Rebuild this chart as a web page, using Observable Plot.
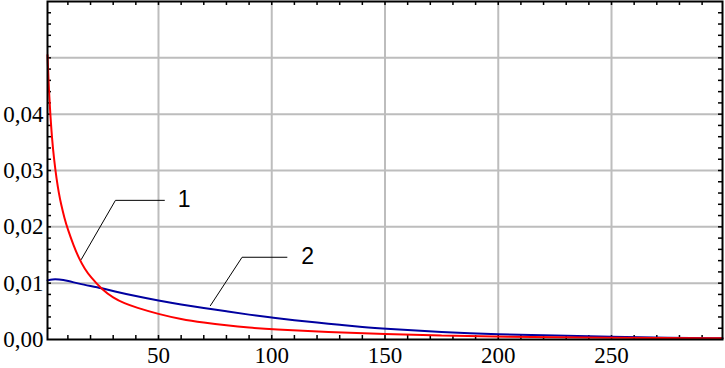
<!DOCTYPE html>
<html>
<head>
<meta charset="utf-8">
<script src="https://cdn.jsdelivr.net/npm/d3@7"></script>
<script src="https://cdn.jsdelivr.net/npm/@observablehq/plot@0.6"></script>
<style>
  html, body { margin: 0; padding: 0; background: #fff; }
  svg { display: block; }
  #chart svg text { font-family: "Liberation Serif", "Times New Roman", "DejaVu Serif", serif !important; }
</style>
</head>
<body>
<div id="chart"></div>
<script>
// Curve 1 (red)
const x1 = [1, 1.5, 2, 3, 4, 5, 6, 7, 8.5, 10, 12.5, 15, 17.5, 20, 25, 30, 35, 40, 50, 60, 70, 80, 90, 100, 125, 150, 175, 200, 250, 299];
const y1 = [0.0505, 0.0455, 0.0415, 0.0355, 0.0316, 0.0285, 0.0260, 0.0240, 0.0215, 0.0195, 0.0167, 0.0143, 0.0125, 0.0111, 0.0089, 0.0074, 0.0064, 0.0057, 0.0045, 0.0036, 0.0030, 0.0025, 0.0021, 0.0018, 0.0013, 0.00095, 0.0007, 0.0005, 0.0003, 0.0002];
// Curve 2 (blue)
const x2 = [1, 3, 6, 10, 15, 20, 25, 30, 40, 50, 60, 70, 80, 90, 100, 110, 120, 130, 140, 150, 175, 200, 225, 250, 275, 299];
const y2 = [0.0105, 0.0107, 0.0107, 0.0104, 0.0099, 0.0095, 0.0091, 0.0086, 0.0077, 0.0069, 0.0062, 0.0056, 0.0050, 0.0044, 0.0039, 0.0034, 0.0030, 0.0026, 0.0022, 0.0019, 0.0013, 0.0009, 0.0007, 0.0005, 0.0003, 0.0002];

// Axis ticks
const yTickLabels = [0, 0.01, 0.02, 0.03, 0.04];
const yGrid = [0.01, 0.02, 0.03, 0.04, 0.05];
const xTickLabels = [50, 100, 150, 200, 250];
const xMinor = d3.range(10, 300, 10);
const yMinor = d3.range(0.002, 0.06, 0.002);

// Annotation leaders and labels
const leader1x = [15.9, 31.0, 52.6];
const leader1y = [0.0142, 0.0247, 0.0247];
const leader2x = [72.9, 86.9, 106.7];
const leader2y = [0.0060, 0.0146, 0.0146];
const labelNames = ["1", "2"];
const labelX = [61.3, 115.8];
const labelY = [0.0249, 0.0147];

const series1 = x1.map((x, i) => ({x, y: y1[i]}));
const series2 = x2.map((x, i) => ({x, y: y2[i]}));
const lead1 = leader1x.map((x, i) => ({x, y: leader1y[i]}));
const lead2 = leader2x.map((x, i) => ({x, y: leader2y[i]}));
const labels = labelNames.map((t, i) => ({t, x: labelX[i], y: labelY[i]}));

const W = 725, H = 368, mL = 47, mR = 3, mT = 1, mB = 29;
const plotH = H - mT - mB, plotW = W - mL - mR;

const chart = Plot.plot({
  width: W, height: H,
  marginLeft: mL, marginRight: mR, marginTop: mT, marginBottom: mB,
  x: {domain: [1, 299]},
  y: {domain: [0, 0.06]},
  style: {background: "#fff", color: "#000"},
  marks: [
    Plot.ruleX(xTickLabels, {stroke: "#bdbdbd", strokeWidth: 2}),
    Plot.ruleY(yGrid, {stroke: "#bdbdbd", strokeWidth: 2}),
    // minor ticks on all four sides
    Plot.ruleX(xMinor, {stroke: "#000", strokeWidth: 1.5, insetTop: plotH - 4}),
    Plot.ruleX(xMinor, {stroke: "#000", strokeWidth: 1.5, insetBottom: plotH - 4}),
    Plot.ruleY(yMinor, {stroke: "#000", strokeWidth: 1.5, insetRight: plotW - 4}),
    Plot.ruleY(yMinor, {stroke: "#000", strokeWidth: 1.5, insetLeft: plotW - 4}),
    Plot.line(series2, {x: "x", y: "y", stroke: "#0000a0", strokeWidth: 2, curve: "basis"}),
    Plot.line(series1, {x: "x", y: "y", stroke: "#ff0000", strokeWidth: 2, curve: "basis"}),
    Plot.line(lead1, {x: "x", y: "y", stroke: "#000", strokeWidth: 1}),
    Plot.line(lead2, {x: "x", y: "y", stroke: "#000", strokeWidth: 1}),
    Plot.text(labels, {x: "x", y: "y", text: "t", fontSize: 23, fill: "#000", textAnchor: "middle"}),
    Plot.frame({stroke: "#000", strokeWidth: 2}),
    Plot.axisY({ticks: yTickLabels, tickSize: 0, tickPadding: 4, fontSize: 23,
      tickFormat: d => d.toFixed(2).replace(".", ","), label: null}),
    Plot.axisX({ticks: xTickLabels, tickSize: 0, tickPadding: 7, fontSize: 23,
      tickFormat: d => String(d), label: null})
  ]
});
document.getElementById("chart").appendChild(chart);
// curve labels "1" and "2" use a sans-serif face
chart.querySelectorAll("text").forEach(t => {
  if (labelNames.includes(t.textContent)) {
    t.style.setProperty("font-family", "'Liberation Sans', Arial, sans-serif", "important");
  }
});
</script>
</body>
</html>
